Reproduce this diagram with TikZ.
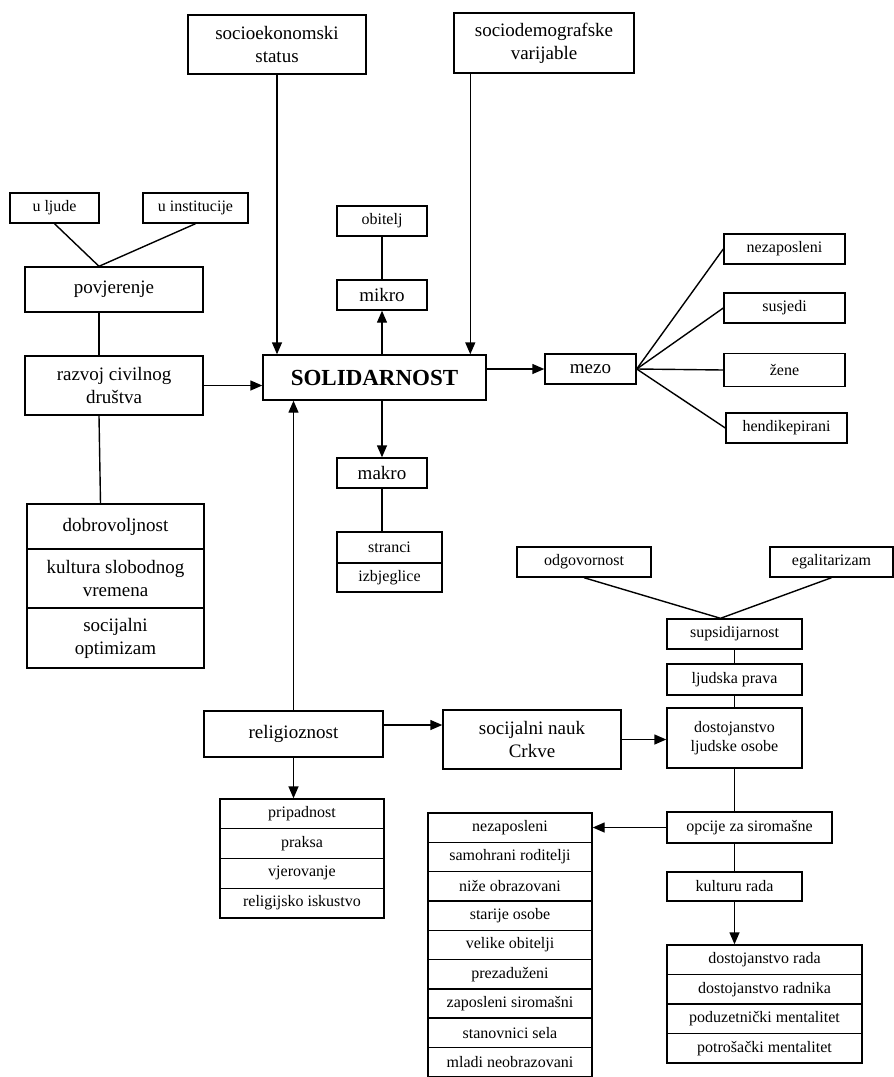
\documentclass[tikz,border=0pt]{standalone}
\usepackage{fontspec}
\setmainfont{Liberation Serif}
\usetikzlibrary{arrows.meta}

\begin{document}
\begin{tikzpicture}[x=1pt,y=-1pt,line width=1.4pt,
    box/.style={draw,inner sep=1pt,align=center},
    big/.style={box,font=\fontsize{19}{23}\selectfont},
    sm/.style={box,font=\fontsize{16}{19}\selectfont},
    arr/.style={-{Triangle[length=12pt,width=10pt]}}]
    \useasboundingbox (0,0) rectangle (894,1077);
    % top
    \node[big,minimum width=178pt,minimum height=59pt] (socio) at (277,44.5) {socioekonomski\\status};
    \node[big,minimum width=180pt,minimum height=60pt] (demo) at (544,43) {sociodemografske\\varijable};
    \node[box,font=\fontsize{23}{27}\selectfont\bfseries,minimum width=223pt,minimum height=45pt] (sol) at (374.5,377.5) {SOLIDARNOST};
    % left column
    \node[sm,minimum width=89pt,minimum height=30pt] (ljude) at (54.5,208) {u ljude};
    \node[sm,minimum width=105pt,minimum height=30pt] (inst) at (195.5,208) {u institucije};
    \node[big,minimum width=178pt,minimum height=45pt] (povj) at (114,289.5) {povjerenje};
    \node[big,minimum width=178pt,minimum height=59pt] (razvoj) at (114,385.5) {razvoj civilnog\\društva};
    \node[big,minimum width=177pt,minimum height=45pt] (dobro) at (115.5,526.5) {dobrovoljnost};
    \node[big,minimum width=177pt,minimum height=59pt] (kult) at (115.5,578.5) {kultura slobodnog\\vremena};
    \node[big,minimum width=177pt,minimum height=60pt] (optim) at (115.5,638) {socijalni\\optimizam};
    % mikro / makro
    \node[sm,minimum width=90pt,minimum height=30pt] (obitelj) at (382,221) {obitelj};
    \node[big,minimum width=90pt,minimum height=30pt] (mikro) at (382,295) {mikro};
    \node[big,minimum width=90pt,minimum height=30pt] (makro) at (382,473) {makro};
    \node[sm,minimum width=105pt,minimum height=31pt] (stranci) at (389.5,547.5) {stranci};
    \node[sm,minimum width=105pt,minimum height=29pt] (izbj) at (389.5,577.5) {izbjeglice};
    % mezo
    \node[big,minimum width=91pt,minimum height=30pt] (mezo) at (590.5,369) {mezo};
    \node[sm,minimum width=121pt,minimum height=30pt] (nezap) at (784.5,249) {nezaposleni};
    \node[sm,minimum width=121pt,minimum height=30pt] (susjedi) at (784.5,308) {susjedi};
    \node[sm,minimum width=121pt,minimum height=33pt] (zene) at (784.5,370) {žene};
    \node[sm,minimum width=121pt,minimum height=30pt] (hendi) at (786.5,428) {hendikepirani};
    % right column
    \node[sm,minimum width=134pt,minimum height=30pt] (odgov) at (584,562) {odgovornost};
    \node[sm,minimum width=123pt,minimum height=30pt] (egal) at (831.5,562) {egalitarizam};
    \node[sm,minimum width=135pt,minimum height=30pt] (supsid) at (734.5,634) {supsidijarnost};
    \node[sm,minimum width=135pt,minimum height=31pt] (prava) at (734.5,679.5) {ljudska prava};
    \node[sm,minimum width=135pt,minimum height=60pt] (dost) at (734.5,738) {dostojanstvo\\ljudske osobe};
    \node[sm,minimum width=165pt,minimum height=31pt] (opcije) at (749.5,827.5) {opcije za siromašne};
    \node[sm,minimum width=135pt,minimum height=29pt] (kultrada) at (734.5,886.5) {kulturu rada};
    \foreach \t [count=\i] in {dostojanstvo rada, dostojanstvo radnika, poduzetnički mentalitet, potrošački mentalitet}
        \node[sm,minimum width=195pt,minimum height=29.5pt] (rad\i) at (764.5,{945+29.5*(\i-0.5)}) {\t};
    % religioznost
    \node[big,minimum width=179pt,minimum height=46pt] (relig) at (293.5,734) {religioznost};
    \node[big,minimum width=178pt,minimum height=59pt] (nauk) at (532,739.5) {socijalni nauk\\Crkve};
    \foreach \t [count=\i] in {pripadnost, praksa, vjerovanje, religijsko iskustvo}
        \node[sm,minimum width=164pt,minimum height=29.75pt] (rs\i) at (302,{799+29.75*(\i-0.5)}) {\t};
    \foreach \t [count=\i] in {nezaposleni, samohrani roditelji, niže obrazovani, starije osobe, velike obitelji, prezaduženi, zaposleni siromašni, stanovnici sela, mladi neobrazovani}
        \node[sm,minimum width=164pt,minimum height=29.3pt] (sir\i) at (510,{813+29.3*(\i-0.5)}) {\t};

    % connectors
    \draw (ljude.south) -- ([xshift=-15pt]povj.north);
    \draw (inst.south) -- ([xshift=-15pt]povj.north);
    \draw ([xshift=-15pt]povj.south) -- ([xshift=-15pt]razvoj.north);
    \draw ([xshift=-15pt]razvoj.south) -- ([xshift=-15pt]dobro.north);
    \draw[arr] (razvoj.east) -- (razvoj.east -| sol.west);
    \draw[arr] (socio.south) -- (socio.south |- sol.north);
    \draw[arr] ([xshift=17pt]demo.south west) -- ([xshift=17pt]demo.south west |- sol.north);
    \draw (obitelj) -- (mikro);
    \draw[arr] (mikro.south |- sol.north) -- (mikro.south);
    \draw[arr] (makro.north |- sol.south) -- (makro.north);
    \draw (makro.south) -- (makro.south |- stranci.north);
    \draw[arr] (mezo.west -| sol.east) -- (mezo.west);
    \foreach \n in {nezap,susjedi,zene,hendi}
        \draw (mezo.east) -- (\n.west);
    \draw[arr] (relig.north) -- (relig.north |- sol.south);
    \draw[arr] ([yshift=9pt]relig.east) -- ([yshift=9pt]relig.east -| nauk.west);
    \draw[arr] (relig.south) -- (relig.south |- rs1.north);
    \draw[arr] (nauk.east) -- (nauk.east -| dost.west);
    \draw (odgov.south) -- ([xshift=-14pt]supsid.north);
    \draw (egal.south) -- ([xshift=-14pt]supsid.north);
    \draw (supsid) -- (prava);
    \draw (prava) -- (dost);
    \draw (dost.south) -- (dost.south |- opcije.north);
    \draw (kultrada.north |- opcije.south) -- (kultrada.north);
    \draw[arr] (kultrada.south) -- (kultrada.south |- rad1.north);
    \draw[arr] (opcije.west) -- (opcije.west -| sir1.east);
\end{tikzpicture}
\end{document}
